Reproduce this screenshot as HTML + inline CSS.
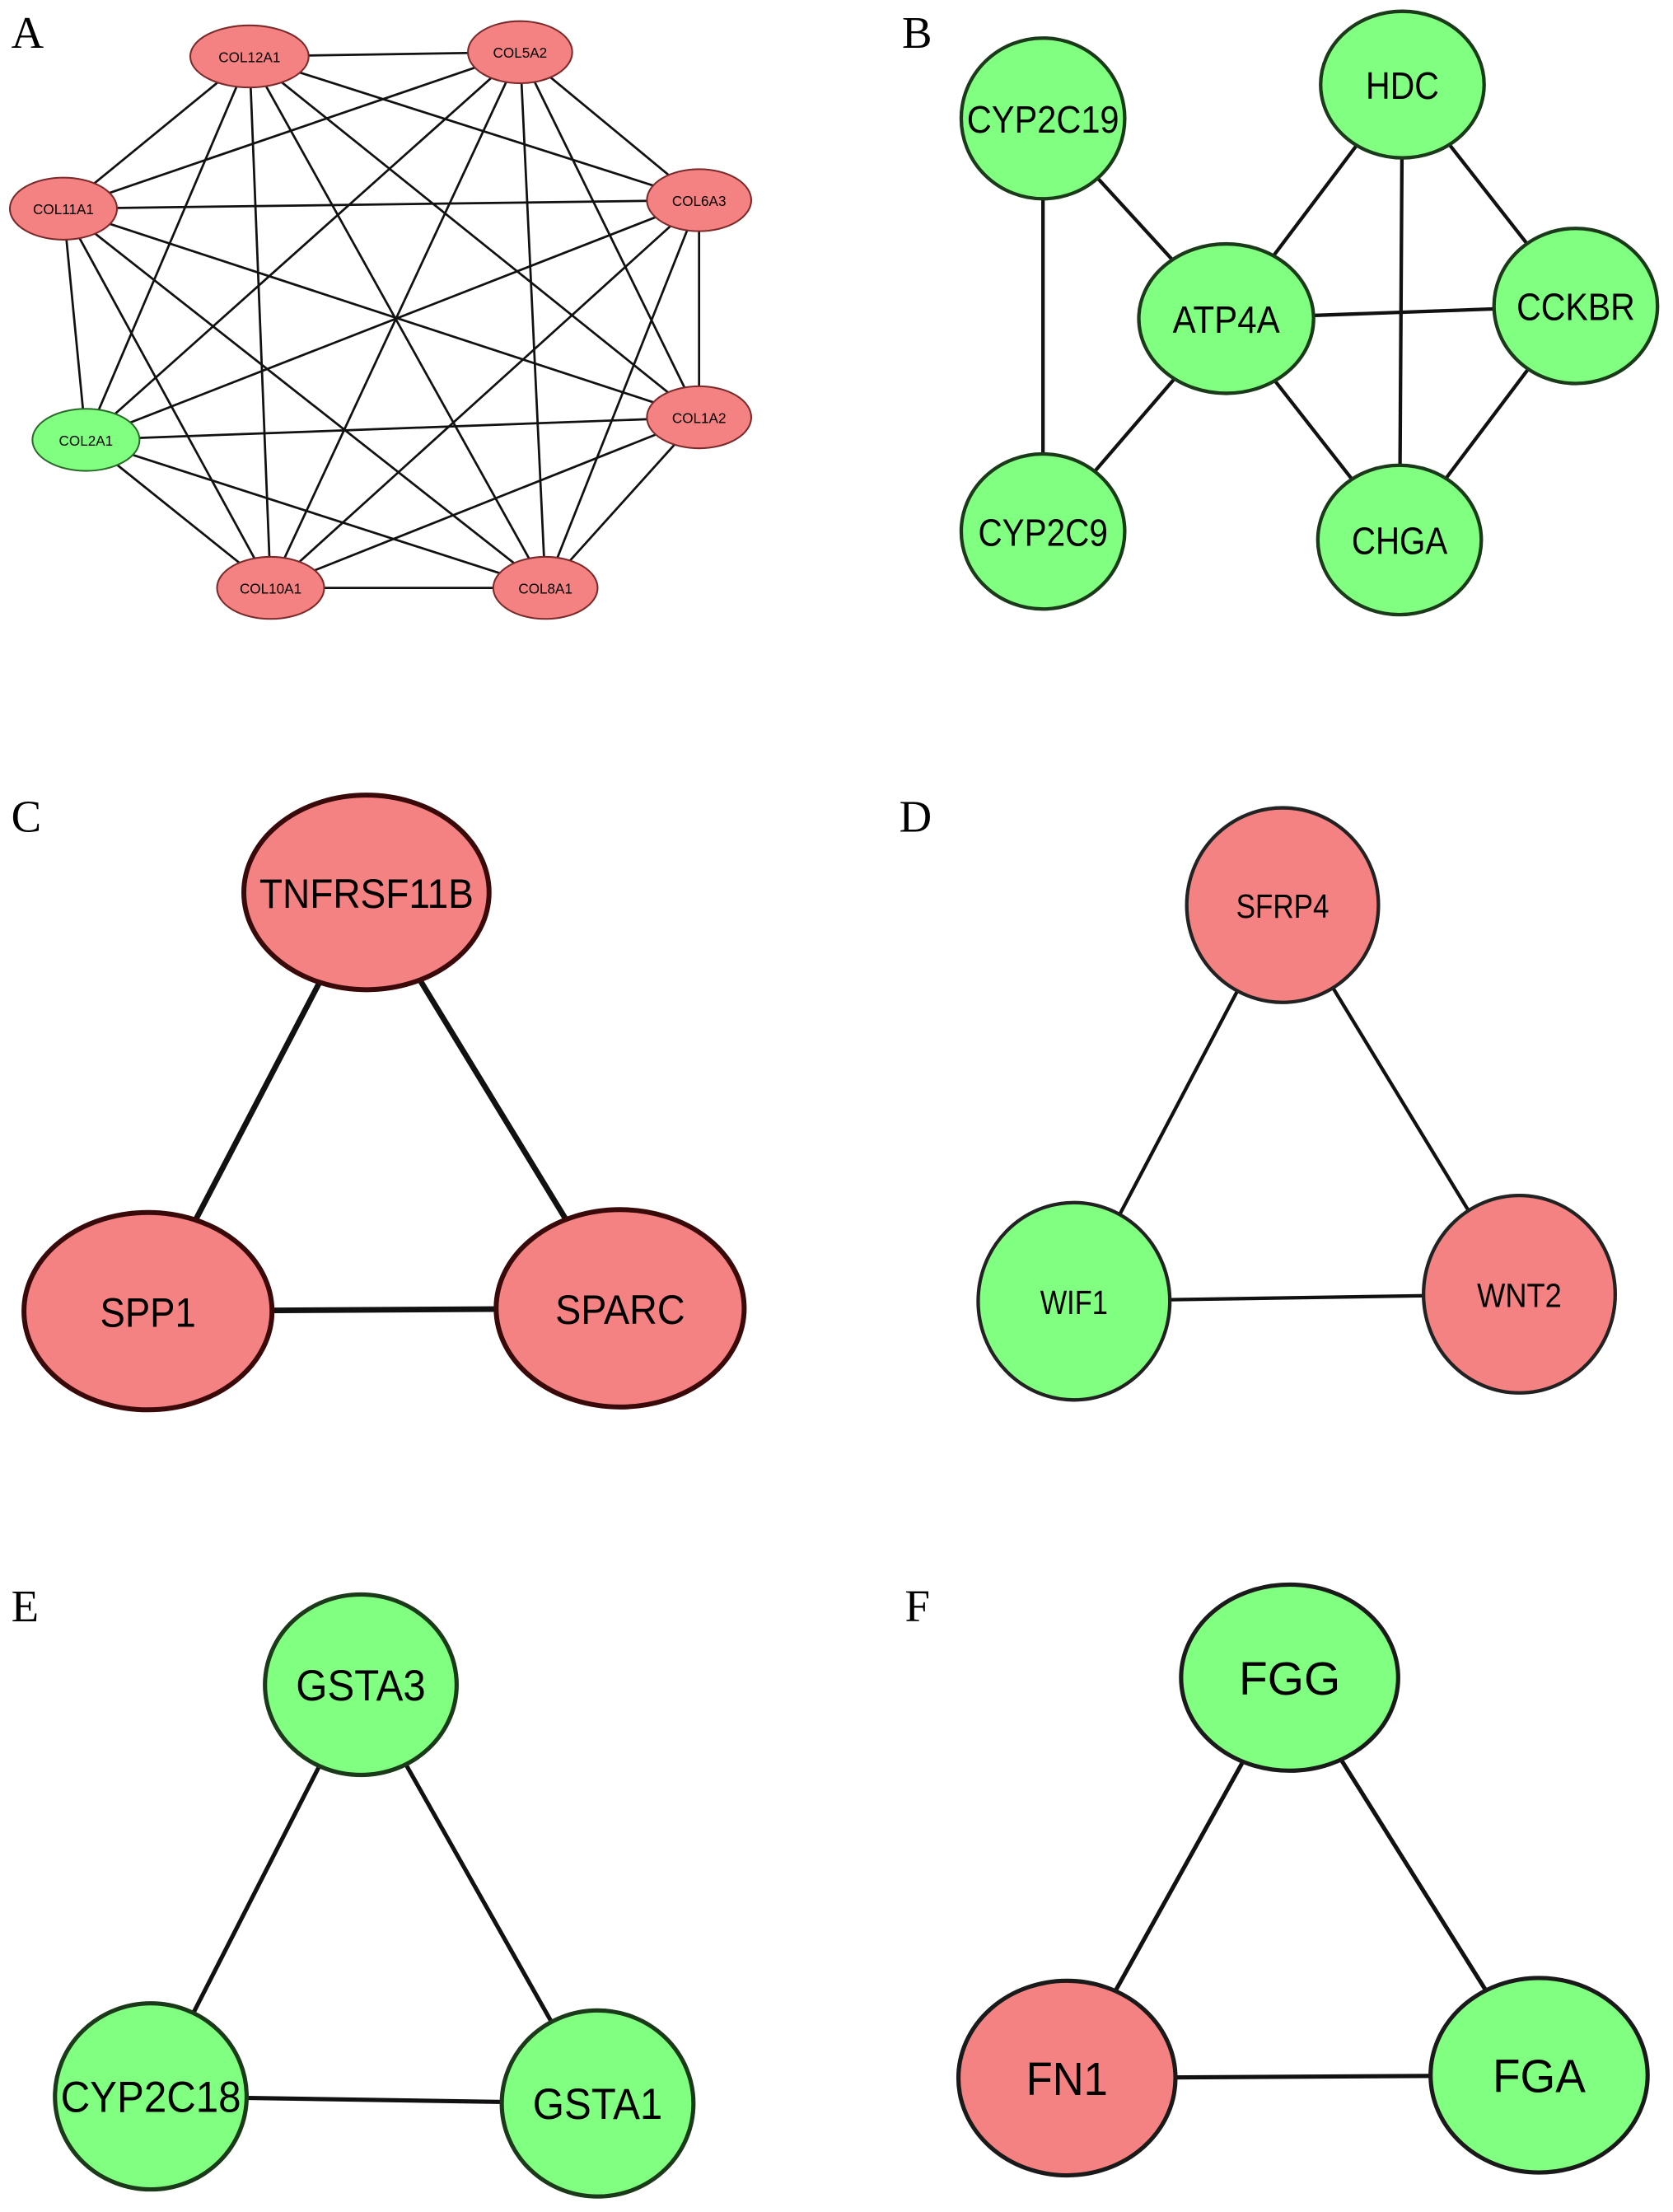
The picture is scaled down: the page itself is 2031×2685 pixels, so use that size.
<!DOCTYPE html>
<html><head><meta charset="utf-8"><style>html,body{margin:0;padding:0;background:#fff}svg{display:block}</style></head>
<body>
<svg width="2031" height="2685" viewBox="0 0 1187 1569" preserveAspectRatio="none" xmlns="http://www.w3.org/2000/svg">
<g font-family="Liberation Serif, serif" font-size="32" fill="#000">
<text x="8" y="34">A</text><text x="640" y="34">B</text>
<text x="8" y="590">C</text><text x="638" y="590">D</text>
<text x="8" y="1150">E</text><text x="642" y="1150">F</text>
</g>
<g stroke="#111" stroke-width="1.6">
<line x1="177" y1="40" x2="369" y2="37"/><line x1="177" y1="40" x2="45" y2="148"/><line x1="177" y1="40" x2="496" y2="142"/><line x1="177" y1="40" x2="61" y2="312"/><line x1="177" y1="40" x2="496" y2="296"/><line x1="177" y1="40" x2="192" y2="417"/><line x1="177" y1="40" x2="387" y2="417"/>
<line x1="369" y1="37" x2="45" y2="148"/><line x1="369" y1="37" x2="496" y2="142"/><line x1="369" y1="37" x2="61" y2="312"/><line x1="369" y1="37" x2="496" y2="296"/><line x1="369" y1="37" x2="192" y2="417"/><line x1="369" y1="37" x2="387" y2="417"/>
<line x1="45" y1="148" x2="496" y2="142"/><line x1="45" y1="148" x2="61" y2="312"/><line x1="45" y1="148" x2="496" y2="296"/><line x1="45" y1="148" x2="192" y2="417"/><line x1="45" y1="148" x2="387" y2="417"/>
<line x1="496" y1="142" x2="61" y2="312"/><line x1="496" y1="142" x2="496" y2="296"/><line x1="496" y1="142" x2="192" y2="417"/><line x1="496" y1="142" x2="387" y2="417"/>
<line x1="61" y1="312" x2="496" y2="296"/><line x1="61" y1="312" x2="192" y2="417"/><line x1="61" y1="312" x2="387" y2="417"/>
<line x1="496" y1="296" x2="192" y2="417"/><line x1="496" y1="296" x2="387" y2="417"/>
<line x1="192" y1="417" x2="387" y2="417"/>
</g>
<g stroke="#7a2a2a" stroke-width="1.2" fill="#f58282">
<ellipse cx="177" cy="40" rx="42" ry="22"/><ellipse cx="369" cy="37" rx="37" ry="22"/><ellipse cx="45" cy="148" rx="38" ry="22"/><ellipse cx="496" cy="142" rx="37" ry="22"/><ellipse cx="496" cy="296" rx="37" ry="22"/><ellipse cx="192" cy="417" rx="38" ry="22"/><ellipse cx="387" cy="417" rx="37" ry="22"/>
<ellipse cx="61" cy="312" rx="38" ry="22" fill="#80ff80" stroke="#2a6a2a"/>
</g>
<g font-family="Liberation Sans, sans-serif" font-size="10" text-anchor="middle" fill="#000">
<text x="177" y="44">COL12A1</text><text x="369" y="41">COL5A2</text><text x="45" y="152">COL11A1</text><text x="496" y="146">COL6A3</text><text x="496" y="300">COL1A2</text><text x="192" y="421">COL10A1</text><text x="387" y="421">COL8A1</text><text x="61" y="316">COL2A1</text>
</g>
<g stroke="#111" stroke-width="2.5">
<line x1="740" y1="84" x2="870" y2="226"/><line x1="740" y1="84" x2="740" y2="377"/><line x1="870" y1="226" x2="740" y2="377"/><line x1="870" y1="226" x2="995" y2="60"/><line x1="870" y1="226" x2="1118" y2="217"/><line x1="870" y1="226" x2="993" y2="383"/><line x1="995" y1="60" x2="1118" y2="217"/><line x1="995" y1="60" x2="993" y2="383"/><line x1="1118" y1="217" x2="993" y2="383"/>
</g>
<g fill="#80ff80" stroke="#1a3a1a" stroke-width="2.5">
<ellipse cx="740" cy="84" rx="58" ry="57"/><ellipse cx="995" cy="60" rx="58" ry="52"/><ellipse cx="870" cy="226" rx="62" ry="53"/><ellipse cx="1118" cy="217" rx="58" ry="55"/><ellipse cx="740" cy="377" rx="58" ry="55"/><ellipse cx="993" cy="383" rx="58" ry="53"/>
</g>
<g font-family="Liberation Sans, sans-serif" font-size="27" text-anchor="middle" fill="#000" lengthAdjust="spacingAndGlyphs">
<text x="740" y="94" textLength="108" lengthAdjust="spacingAndGlyphs">CYP2C19</text><text x="995" y="70" textLength="52" lengthAdjust="spacingAndGlyphs">HDC</text><text x="870" y="236" textLength="76" lengthAdjust="spacingAndGlyphs">ATP4A</text><text x="1118" y="227" textLength="84" lengthAdjust="spacingAndGlyphs">CCKBR</text><text x="740" y="387" textLength="92" lengthAdjust="spacingAndGlyphs">CYP2C9</text><text x="993" y="393" textLength="68" lengthAdjust="spacingAndGlyphs">CHGA</text>
</g>
<g stroke="#111" stroke-width="4">
<line x1="260" y1="633" x2="105" y2="930"/><line x1="260" y1="633" x2="440" y2="928"/><line x1="105" y1="930" x2="440" y2="928"/>
</g>
<g fill="#f58282" stroke="#3a0a0a" stroke-width="3.5">
<ellipse cx="260" cy="633" rx="87" ry="69"/><ellipse cx="105" cy="930" rx="88" ry="70"/><ellipse cx="440" cy="928" rx="88" ry="70"/>
</g>
<g font-family="Liberation Sans, sans-serif" font-size="29" text-anchor="middle" fill="#000">
<text x="260" y="644" textLength="152" lengthAdjust="spacingAndGlyphs">TNFRSF11B</text><text x="105" y="941" textLength="68" lengthAdjust="spacingAndGlyphs">SPP1</text><text x="440" y="939" textLength="92" lengthAdjust="spacingAndGlyphs">SPARC</text>
</g>
<g stroke="#111" stroke-width="2.5">
<line x1="910" y1="642" x2="762" y2="923"/><line x1="910" y1="642" x2="1078" y2="918"/><line x1="762" y1="923" x2="1078" y2="918"/>
</g>
<g stroke="#222" stroke-width="2.5">
<ellipse cx="910" cy="642" rx="68" ry="69" fill="#f58282"/><ellipse cx="762" cy="923" rx="68" ry="70" fill="#80ff80"/><ellipse cx="1078" cy="918" rx="68" ry="70" fill="#f58282"/>
</g>
<g font-family="Liberation Sans, sans-serif" font-size="24" text-anchor="middle" fill="#000">
<text x="910" y="651" textLength="66" lengthAdjust="spacingAndGlyphs">SFRP4</text><text x="762" y="932" textLength="48" lengthAdjust="spacingAndGlyphs">WIF1</text><text x="1078" y="927" textLength="60" lengthAdjust="spacingAndGlyphs">WNT2</text>
</g>
<g stroke="#111" stroke-width="3">
<line x1="256" y1="1195" x2="107" y2="1487"/><line x1="256" y1="1195" x2="424" y2="1492"/><line x1="107" y1="1487" x2="424" y2="1492"/>
</g>
<g fill="#80ff80" stroke="#1a3a1a" stroke-width="3">
<ellipse cx="256" cy="1195" rx="68" ry="64"/><ellipse cx="107" cy="1487" rx="68" ry="66"/><ellipse cx="424" cy="1492" rx="68" ry="66"/>
</g>
<g font-family="Liberation Sans, sans-serif" font-size="31" text-anchor="middle" fill="#000">
<text x="256" y="1206" textLength="92" lengthAdjust="spacingAndGlyphs">GSTA3</text><text x="107" y="1498" textLength="128" lengthAdjust="spacingAndGlyphs">CYP2C18</text><text x="424" y="1503" textLength="92" lengthAdjust="spacingAndGlyphs">GSTA1</text>
</g>
<g stroke="#111" stroke-width="3">
<line x1="915" y1="1190" x2="757" y2="1474"/><line x1="915" y1="1190" x2="1092" y2="1472"/><line x1="757" y1="1474" x2="1092" y2="1472"/>
</g>
<g stroke="#1a1a1a" stroke-width="3">
<ellipse cx="915" cy="1190" rx="77" ry="66" fill="#80ff80"/><ellipse cx="757" cy="1474" rx="77" ry="69" fill="#f58282"/><ellipse cx="1092" cy="1472" rx="77" ry="69" fill="#80ff80"/>
</g>
<g font-family="Liberation Sans, sans-serif" font-size="33" text-anchor="middle" fill="#000">
<text x="915" y="1202" textLength="72" lengthAdjust="spacingAndGlyphs">FGG</text><text x="757" y="1486" textLength="58" lengthAdjust="spacingAndGlyphs">FN1</text><text x="1092" y="1484" textLength="66" lengthAdjust="spacingAndGlyphs">FGA</text>
</g>
</svg>
</body></html>
